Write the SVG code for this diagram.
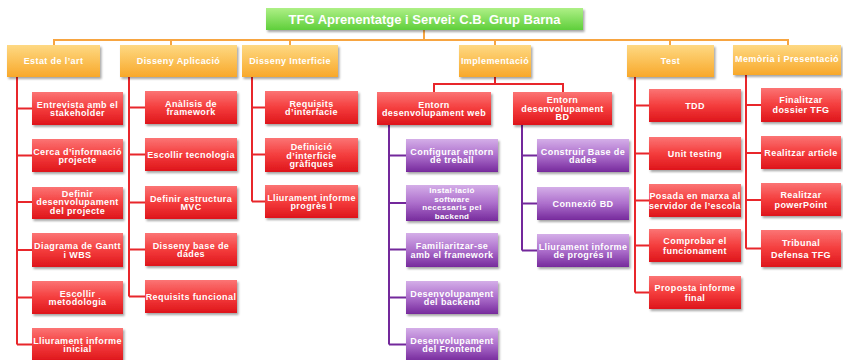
<svg xmlns="http://www.w3.org/2000/svg" width="843" height="360" viewBox="0 0 843 360">
<defs>
<linearGradient id="gr" x1="0" y1="0" x2="0" y2="1"><stop offset="0" stop-color="#fb7474"/><stop offset="0.5" stop-color="#f43d3d"/><stop offset="1" stop-color="#de151b"/></linearGradient>
<linearGradient id="gp" x1="0" y1="0" x2="0" y2="1"><stop offset="0" stop-color="#d4aee8"/><stop offset="0.5" stop-color="#ad6fcc"/><stop offset="1" stop-color="#762a9c"/></linearGradient>
<linearGradient id="go" x1="0" y1="0" x2="0" y2="1"><stop offset="0" stop-color="#fed983"/><stop offset="1" stop-color="#f8a82a"/></linearGradient>
<linearGradient id="gg" x1="0" y1="0" x2="0" y2="1"><stop offset="0" stop-color="#aef086"/><stop offset="1" stop-color="#5fcf3b"/></linearGradient>
<filter id="sh" x="-10%" y="-20%" width="130%" height="160%"><feDropShadow dx="1.5" dy="2" stdDeviation="1.2" flood-color="#000" flood-opacity="0.35"/></filter>
</defs>
<style>
.r{fill:url(#gr);filter:url(#sh)}
.p{fill:url(#gp);filter:url(#sh)}
.o{fill:url(#go);filter:url(#sh)}
.g{fill:url(#gg);filter:url(#sh)}
text{font-family:"Liberation Sans",Arial,sans-serif;font-weight:bold;font-size:9px;fill:#fff;text-anchor:middle;letter-spacing:0.4px}
.big{font-size:13px;letter-spacing:0}
.sm{font-size:8px;letter-spacing:0.3px}
.co{fill:none;stroke:#f7a541;stroke-width:2}
.cr{fill:none;stroke:#e8262b;stroke-width:2}
.cp{fill:none;stroke:#73289b;stroke-width:2}
</style>
<g id="connectors">
<path class="co" d="M424,30V40M54,45V40H788V45M171,40V45M290,40V45M495,40V45M670,40V45"/>
<path class="cr" d="M17,77V344.5M17,108.5H32M17,155.5H32M17,202H32M17,250H32M17,297.5H32M17,344.5H32"/>
<path class="cr" d="M129,77V296.5M129,107.5H145M129,154.5H145M129,202.5H145M129,249.5H145M129,296.5H145"/>
<path class="cr" d="M252,77V201.5M252,107.5H265M252,154.5H265M252,201.5H265"/>
<path class="cr" d="M495,77V84M434,92V84H563V92"/>
<path class="cp" d="M389,125V344.5M389,155.5H406M389,203H406M389,249.5H406M389,297.5H406M389,344.5H406"/>
<path class="cp" d="M522,125V250.5M522,155.5H537M522,203.5H537M522,250.5H537"/>
<path class="cr" d="M635,77V292.5M635,105.5H649M635,153.5H649M635,200.5H649M635,245.5H649M635,292.5H649"/>
<path class="cr" d="M746,74V248.5M746,105H761M746,153H761M746,200H761M746,248.5H761"/>
</g>
<g id="root"><rect class="g" x="266" y="8" width="317" height="22"/><text class="big" x="424.5" y="23.5">TFG Aprenentatge i Servei: C.B. Grup Barna</text></g>
<g id="estat"><rect class="o" x="7" y="45" width="93" height="32"/><text x="53.5" y="64">Estat de l’art</text></g>
<g id="disseny-aplicacio"><rect class="o" x="120" y="45" width="117" height="32"/><text x="178.5" y="64">Disseny Aplicació</text></g>
<g id="disseny-interficie"><rect class="o" x="242" y="45" width="96" height="32"/><text x="290" y="64">Disseny Interficie</text></g>
<g id="implementacio"><rect class="o" x="459" y="45" width="72" height="32"/><text x="495" y="64">Implementació</text></g>
<g id="test"><rect class="o" x="627" y="45" width="87" height="32"/><text x="670.5" y="64">Test</text></g>
<g id="memoria"><rect class="o" x="733" y="45" width="108" height="30"/><text x="787" y="62">Memòria i Presentació</text></g>

<g id="e1"><rect class="r" x="32" y="92" width="91" height="33"/><text><tspan x="77.5" y="107.5">Entrevista amb el</tspan><tspan x="77.5" y="116">stakeholder</tspan></text></g>
<g id="e2"><rect class="r" x="32" y="139" width="91" height="33"/><text><tspan x="77.5" y="154.5">Cerca d’informació</tspan><tspan x="77.5" y="163">projecte</tspan></text></g>
<g id="e3"><rect class="r" x="32" y="187" width="91" height="32"/><text><tspan x="77.5" y="196.7">Definir</tspan><tspan x="77.5" y="205.2">desenvolupament</tspan><tspan x="77.5" y="213.7">del projecte</tspan></text></g>
<g id="e4"><rect class="r" x="32" y="233" width="91" height="34"/><text><tspan x="77.5" y="249">Diagrama de Gantt</tspan><tspan x="77.5" y="257.5">i WBS</tspan></text></g>
<g id="e5"><rect class="r" x="32" y="281" width="91" height="33"/><text><tspan x="77.5" y="296.5">Escollir</tspan><tspan x="77.5" y="305">metodologia</tspan></text></g>
<g id="e6"><rect class="r" x="32" y="328" width="91" height="33"/><text><tspan x="77.5" y="343.5">Lliurament  informe</tspan><tspan x="77.5" y="352">inicial</tspan></text></g>

<g id="a1"><rect class="r" x="145" y="91" width="92" height="33"/><text><tspan x="191" y="106.5">Anàlisis de</tspan><tspan x="191" y="115">framework</tspan></text></g>
<g id="a2"><rect class="r" x="145" y="138" width="92" height="33"/><text x="191" y="157.7">Escollir tecnologia</text></g>
<g id="a3"><rect class="r" x="145" y="186" width="92" height="33"/><text><tspan x="191" y="201.5">Definir estructura</tspan><tspan x="191" y="210">MVC</tspan></text></g>
<g id="a4"><rect class="r" x="145" y="233" width="92" height="33"/><text><tspan x="191" y="248.5">Disseny base de</tspan><tspan x="191" y="257">dades</tspan></text></g>
<g id="a5"><rect class="r" x="145" y="280" width="92" height="33"/><text x="191" y="299.7">Requisits funcional</text></g>

<g id="i1"><rect class="r" x="265" y="91" width="93" height="33"/><text><tspan x="311.5" y="106.5">Requisits</tspan><tspan x="311.5" y="115">d’interfacie</tspan></text></g>
<g id="i2"><rect class="r" x="265" y="138" width="93" height="34"/><text><tspan x="311.5" y="150">Definició</tspan><tspan x="311.5" y="158.5">d’interficie</tspan><tspan x="311.5" y="167">gràfiques</tspan></text></g>
<g id="i3"><rect class="r" x="265" y="185" width="93" height="33"/><text><tspan x="311.5" y="200.5">Lliurament informe</tspan><tspan x="311.5" y="209">progrès I</tspan></text></g>

<g id="entorn-web"><rect class="r" x="377" y="92" width="114" height="33"/><text><tspan x="434" y="107.5">Entorn</tspan><tspan x="434" y="116">desenvolupament web</tspan></text></g>
<g id="entorn-bd"><rect class="r" x="513" y="92" width="99" height="33"/><text><tspan x="562.5" y="103.2">Entorn</tspan><tspan x="562.5" y="111.7">desenvolupament</tspan><tspan x="562.5" y="120.2">BD</tspan></text></g>

<g id="w1"><rect class="p" x="406" y="139" width="92" height="33"/><text><tspan x="452" y="154.5">Configurar entorn</tspan><tspan x="452" y="163">de treball</tspan></text></g>
<g id="w2"><rect class="p" x="406" y="185" width="92" height="36"/><text class="sm"><tspan x="452" y="192.7">Instal·lació</tspan><tspan x="452" y="201.5">software</tspan><tspan x="452" y="210.3">necessaris pel</tspan><tspan x="452" y="219.1">backend</tspan></text></g>
<g id="w3"><rect class="p" x="406" y="233" width="92" height="34"/><text><tspan x="452" y="249">Familiaritzar-se</tspan><tspan x="452" y="257.5">amb el framework</tspan></text></g>
<g id="w4"><rect class="p" x="406" y="281" width="92" height="33"/><text><tspan x="452" y="296.5">Desenvolupament</tspan><tspan x="452" y="305">del backend</tspan></text></g>
<g id="w5"><rect class="p" x="406" y="328" width="92" height="33"/><text><tspan x="452" y="343.5">Desenvolupament</tspan><tspan x="452" y="352">del Frontend</tspan></text></g>

<g id="b1"><rect class="p" x="537" y="139" width="92" height="33"/><text><tspan x="583" y="154.5">Construir Base de</tspan><tspan x="583" y="163">dades</tspan></text></g>
<g id="b2"><rect class="p" x="537" y="187" width="92" height="33"/><text x="583" y="206.7">Connexió BD</text></g>
<g id="b3"><rect class="p" x="537" y="234" width="92" height="33"/><text><tspan x="583" y="249.5">Lliurament informe</tspan><tspan x="583" y="258">de progrés II</tspan></text></g>

<g id="t1"><rect class="r" x="649" y="89" width="92" height="33"/><text x="695" y="108.7">TDD</text></g>
<g id="t2"><rect class="r" x="649" y="137" width="92" height="33"/><text x="695" y="156.7">Unit testing</text></g>
<g id="t3"><rect class="r" x="649" y="184" width="92" height="33"/><text><tspan x="695" y="199">Posada en marxa al</tspan><tspan x="695" y="208.5">servidor de l’escola</tspan></text></g>
<g id="t4"><rect class="r" x="649" y="229" width="92" height="33"/><text><tspan x="695" y="244">Comprobar el</tspan><tspan x="695" y="253.5">funcionament</tspan></text></g>
<g id="t5"><rect class="r" x="649" y="276" width="92" height="33"/><text><tspan x="695" y="291">Proposta informe</tspan><tspan x="695" y="301">final</tspan></text></g>

<g id="m1"><rect class="r" x="761" y="88" width="80" height="34"/><text><tspan x="801" y="103">Finalitzar</tspan><tspan x="801" y="113">dossier TFG</tspan></text></g>
<g id="m2"><rect class="r" x="761" y="136" width="80" height="33"/><text x="801" y="155.7">Realitzar article</text></g>
<g id="m3"><rect class="r" x="761" y="183" width="80" height="33"/><text><tspan x="801" y="198">Realitzar</tspan><tspan x="801" y="208">powerPoint</tspan></text></g>
<g id="m4"><rect class="r" x="761" y="230" width="80" height="37"/><text><tspan x="801" y="246">Tribunal</tspan><tspan x="801" y="257.5">Defensa TFG</tspan></text></g>
</svg>
